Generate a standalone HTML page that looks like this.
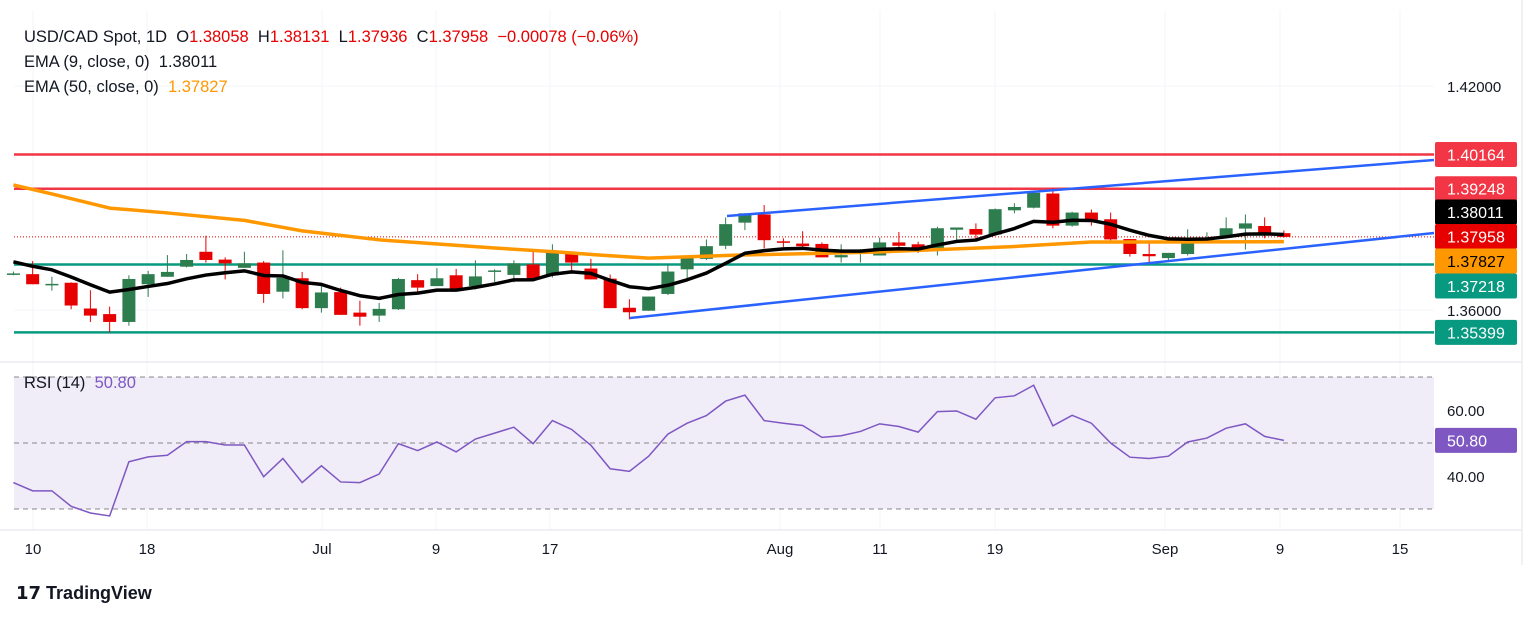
<!DOCTYPE html>
<html><head><meta charset="utf-8">
<style>
html,body{margin:0;padding:0;background:#fff;}
body{width:1536px;height:617px;overflow:hidden;font-family:"Liberation Sans",sans-serif;}
svg text{font-family:"Liberation Sans",sans-serif;white-space:pre;}
</style></head>
<body>
<svg id="chart" width="1536" height="617" viewBox="0 0 1536 617" xmlns="http://www.w3.org/2000/svg">
<g id="grid"></g>
<rect x="14" y="377" width="1420" height="132" fill="#f0ecf8"/>
<g id="levels"></g>
<g id="candles"></g>
<g id="lines"></g>
<g id="rsi"></g>
<g id="axis"></g>
<text x="24" y="42" font-size="16.5" fill="#131722" xml:space="preserve">USD/CAD Spot, 1D  O<tspan fill="#e60000">1.38058</tspan>  H<tspan fill="#e60000">1.38131</tspan>  L<tspan fill="#e60000">1.37936</tspan>  C<tspan fill="#e60000">1.37958  −0.00078 (−0.06%)</tspan></text>
<text x="24" y="67" font-size="16.5" fill="#131722" xml:space="preserve">EMA (9, close, 0)  1.38011</text>
<text x="24" y="92" font-size="16.5" fill="#131722" xml:space="preserve">EMA (50, close, 0)  <tspan fill="#ff9800">1.37827</tspan></text>
<text x="24" y="388" font-size="16.5" fill="#131722" xml:space="preserve">RSI (14)  <tspan fill="#7e57c2">50.80</tspan></text>
<text x="16" y="599" font-size="18" font-weight="bold" fill="#131722">𝟭𝟳 TradingView</text>
</svg>
<script>
const opens=[1.3697,1.3696,1.3669,1.3673,1.3604,1.3589,1.3568,1.3669,1.3689,1.3716,1.3756,1.3735,1.3713,1.3727,1.3649,1.3685,1.3605,1.3648,1.3593,1.3585,1.3602,1.3680,1.3664,1.3693,1.3664,1.3705,1.3694,1.3722,1.3693,1.3755,1.3711,1.3684,1.3606,1.3598,1.3643,1.3709,1.3737,1.3772,1.3834,1.3856,1.3784,1.3778,1.3777,1.3741,1.3756,1.3746,1.3781,1.3776,1.3760,1.3815,1.3817,1.3802,1.3867,1.3874,1.3912,1.3826,1.3861,1.3843,1.3790,1.3750,1.3739,1.3750,1.3783,1.3794,1.3818,1.3825,1.38058];
const highs=[1.3703,1.3731,1.3689,1.3674,1.3653,1.3609,1.3693,1.3705,1.3747,1.3750,1.3799,1.3741,1.3756,1.3731,1.3760,1.3702,1.3668,1.3660,1.3625,1.3619,1.3686,1.3696,1.3712,1.3710,1.3733,1.3709,1.3733,1.3759,1.3776,1.3755,1.3737,1.3695,1.3629,1.3636,1.3723,1.3744,1.3789,1.3848,1.3859,1.3881,1.3792,1.3811,1.3781,1.3776,1.3763,1.3794,1.3809,1.3783,1.3823,1.3821,1.3832,1.3872,1.3886,1.3914,1.3926,1.3863,1.3869,1.3861,1.3790,1.3780,1.3753,1.3816,1.3808,1.3848,1.3856,1.3848,1.38131];
const lows=[1.3693,1.3669,1.3652,1.3602,1.3568,1.3540,1.3558,1.3635,1.3689,1.3714,1.3727,1.3682,1.3713,1.3619,1.3631,1.3602,1.3593,1.3587,1.3558,1.3568,1.3600,1.3642,1.3664,1.3654,1.3655,1.3675,1.3674,1.3682,1.3687,1.3697,1.3682,1.3605,1.3575,1.3598,1.3640,1.3684,1.3734,1.3763,1.3814,1.3765,1.3769,1.3769,1.3741,1.3727,1.3727,1.3746,1.3758,1.3753,1.3746,1.3787,1.3787,1.3802,1.3859,1.3872,1.3819,1.3823,1.3826,1.3785,1.3743,1.3727,1.3734,1.3746,1.3781,1.3794,1.3762,1.3792,1.37936];
const closes=[1.3698,1.3669,1.3670,1.3612,1.3585,1.3568,1.3683,1.3696,1.3702,1.3734,1.3734,1.3725,1.3725,1.3643,1.3686,1.3605,1.3647,1.3587,1.3582,1.3603,1.3683,1.3660,1.3685,1.3654,1.3690,1.3706,1.3725,1.3682,1.3755,1.3727,1.3682,1.3605,1.3594,1.3636,1.3703,1.3740,1.3771,1.3830,1.3859,1.3787,1.3783,1.3771,1.3741,1.3747,1.3757,1.3781,1.3772,1.3759,1.3819,1.3821,1.3802,1.3870,1.3876,1.3914,1.3826,1.3861,1.3838,1.3789,1.3750,1.3744,1.3753,1.3785,1.3794,1.3819,1.3832,1.3807,1.37958];
const rsiValues=[38,35.5,35.5,30.8,28.8,27.9,44.3,45.8,46.3,50.4,50.4,49.4,49.4,39.8,45.3,38,43.1,38.2,38,40.6,49.8,47.7,50.3,47.3,51.2,53,54.8,49.8,56.8,54.1,49.3,42.2,41.4,46,52.7,56,58.3,62.7,64.5,56.8,56,55.3,51.7,52.2,53.5,55.8,55,53.3,59.5,59.7,57.2,63.7,64.3,67.5,55.2,58.4,56,50,45.7,45.3,46,50.3,51.5,54.5,55.8,52,50.8];
const ema50Idx=[0,2,5,8,12,15,19,25,28.4,30.5,33,37.6,44.7,51.6,56,66];
const ema50Val=[1.3935,1.3911,1.3873,1.3860,1.3840,1.3812,1.3788,1.3766,1.3755,1.3747,1.3739,1.3747,1.3755,1.3769,1.3782,1.3783];
const ema9Seed=1.3729;
const dateLabels=["10","18","Jul","9","17","Aug","11","19","Sep","9","15"];
const dateX=[33,147,322,436,550,780,880,995,1165,1280,1400];
const priceTicks=[1.42,1.36];
const rsiTicks=[60,40];

const NS="http://www.w3.org/2000/svg";
function X(i){return 13.4+i*19.25;}
function Y(p){return 86+(1.42-p)*3733.33;}
function RY(v){return 410+(60-v)*3.3;}
function mk(parent,tag,attrs){const e=document.createElementNS(NS,tag);for(const k in attrs)e.setAttribute(k,attrs[k]);document.getElementById(parent).appendChild(e);return e;}

dateX.forEach(x=>{const l=mk('grid','line',{x1:x,x2:x,y1:10,y2:530,stroke:'#f3f5fa','stroke-width':1});

});
priceTicks.forEach(p=>{const l=mk('grid','line',{x1:14,x2:1434,y1:Y(p),y2:Y(p),stroke:'#f3f5fa'});

});

function hl(p,color,name,w){const l=mk('levels','line',{x1:14,x2:1434,y1:Y(p),y2:Y(p),stroke:color,'stroke-width':w});

}
hl(1.40164,'#f23645','resistance-1-40164',2.5);
hl(1.39248,'#f23645','resistance-1-39248',2.5);
hl(1.37218,'#089981','support-1-37218',2.5);
hl(1.35399,'#089981','support-1-35399',2.5);
const cur=mk('levels','line',{x1:14,x2:1434,y1:Y(1.37958),y2:Y(1.37958),stroke:'#e60000','stroke-width':1,'stroke-dasharray':'1 2'});



for(let i=0;i<opens.length;i++){
 const up=closes[i]>=opens[i];const c=up?'#2e7d4f':'#e60000';const x=X(i);
 const w=mk('candles','line',{x1:x,x2:x,y1:Y(highs[i]),y2:Y(lows[i]),stroke:c,'stroke-width':1});
 
 
 const t=Y(Math.max(opens[i],closes[i])),b=Y(Math.min(opens[i],closes[i]));
 const r=mk('candles','rect',{x:x-6.5,y:t,width:13,height:Math.max(1.5,b-t),fill:c});
 
 
}

let pts=ema50Idx.map((ix,k)=>X(ix)+','+Y(ema50Val[k])).join(' ');
const e50=mk('lines','polyline',{points:pts,fill:'none',stroke:'#ff9800','stroke-width':3.5,'stroke-linejoin':'round'});


let e=ema9Seed,p9=[];const a=2/10;
closes.forEach((c,i)=>{e=i===0?ema9Seed:e+a*(c-e);p9.push(X(i)+','+Y(e));});
const e9=mk('lines','polyline',{points:p9.join(' '),fill:'none',stroke:'#000','stroke-width':3.5,'stroke-linejoin':'round'});


const tu=mk('lines','line',{x1:727,y1:216,x2:1434,y2:160,stroke:'#2962ff','stroke-width':2.5});


const tl=mk('lines','line',{x1:630,y1:318,x2:1434,y2:233,stroke:'#2962ff','stroke-width':2.5});



[70,50,30].forEach(v=>{const l=mk('rsi','line',{x1:14,x2:1434,y1:RY(v),y2:RY(v),stroke:'#888','stroke-dasharray':'5 4','stroke-width':1});

});
const rl=mk('rsi','polyline',{points:rsiValues.map((v,i)=>X(i)+','+RY(v)).join(' '),fill:'none',stroke:'#7e57c2','stroke-width':1.5});


const sep=mk('axis','line',{x1:0,x2:1522,y1:362,y2:362,stroke:'#e0e3eb'});


const bot=mk('axis','line',{x1:0,x2:1522,y1:530,y2:530,stroke:'#e0e3eb'});


const rb=mk('axis','line',{x1:1522,x2:1522,y1:0,y2:565,stroke:'#e0e3eb'});



function txt(x,y,s,name,attrs){const t=mk('axis','text',Object.assign({x:x,y:y,'font-size':15,fill:'#131722'},attrs||{}));t.textContent=s;

return t;}
priceTicks.forEach(p=>txt(1447,Y(p)+6,p.toFixed(5),'price-tick'));
rsiTicks.forEach(v=>txt(1447,RY(v)+6,v.toFixed(2),'rsi-tick'));
dateLabels.forEach((s,k)=>txt(dateX[k],554,s,'date-tick',{'text-anchor':'middle'}));
function tag(p,val,bg,fg,name,yy){const y=yy!==undefined?yy:Y(p);
 const r=mk('axis','rect',{x:1435,y:y-12.5,width:82,height:25,rx:2,fill:bg});
 
 
 txt(1447,y+6,val,name+'-text',{fill:fg,'font-size':16});}
tag(1.40164,'1.40164','#f23645','#fff','label-1-40164');
tag(1.39248,'1.39248','#f23645','#fff','label-1-39248');
tag(0,'1.38011','#000','#fff','label-ema9',212);
tag(0,'1.37958','#e60000','#fff','label-close',236.5);
tag(0,'1.37827','#ff9800','#000','label-ema50',261);
tag(0,'1.37218','#089981','#fff','label-1-37218',286);
tag(1.35399,'1.35399','#089981','#fff','label-1-35399');
tag(0,'50.80','#7e57c2','#fff','label-rsi',RY(50.8));
</script>
</body></html>
